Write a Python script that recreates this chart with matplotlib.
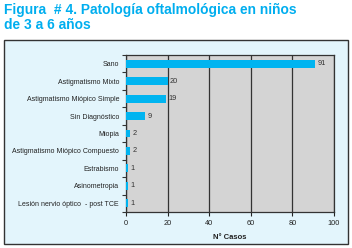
import matplotlib.pyplot as plt
from matplotlib.patches import Rectangle

categorias = ['Sano', 'Astigmatismo Mixto', 'Astigmatismo Miópico Simple',
              'Sin Diagnóstico', 'Miopia', 'Astigmatismo Miópico Compuesto',
              'Estrabismo', 'Asinometropia', 'Lesión nervio óptico  - post TCE']
casos = [91, 20, 19, 9, 2, 2, 1, 1, 1]
xticks = [0, 20, 40, 60, 80, 100]

plt.rcParams['font.family'] = ['Liberation Sans', 'DejaVu Sans']

W, H = 352, 248
fig = plt.figure(figsize=(W / 100, H / 100), dpi=100)
fig.patch.set_facecolor('white')

# marco azul claro
fig.patches.append(Rectangle((4 / W, 1 - 244 / H), 344 / W, 204 / H,
                             transform=fig.transFigure, facecolor='#E3F5FC',
                             edgecolor='#333333', linewidth=1.0, zorder=-10))

fig.text(4 / W, 1 - 3 / H, 'Figura  # 4. Patología oftalmológica en niños\nde 3 a 6 años',
         ha='left', va='top', fontsize=9.9, fontweight='bold', color='#00AEEF',
         linespacing=1.05)

ax = fig.add_axes([126 / W, 1 - 212 / H, 208 / W, 157 / H])
ax.set_facecolor('#D4D4D4')
y = list(range(len(categorias)))[::-1]
ax.barh(y, casos, height=0.45, color='#00B4F0', zorder=3)
for yi, v in zip(y, casos):
    ax.text(v + 1.2, yi, str(v), va='center', ha='left', fontsize=5.3, color='#333333')

ax.set_xlim(0, 100)
ax.set_ylim(-0.5, len(categorias) - 0.5)
ax.set_xticks(xticks)
ax.set_yticks(y)
ax.set_yticklabels(categorias)
ax.set_yticks([i - 0.5 for i in range(len(categorias) + 1)], minor=True)
ax.tick_params(axis='y', which='major', length=0, labelsize=5.0, pad=5, colors='#222222')
ax.tick_params(axis='y', which='minor', length=3, width=0.8, color='#333333')
ax.tick_params(axis='x', length=3, width=0.8, labelsize=5.3, pad=3, colors='#222222')
ax.grid(axis='x', color='#333333', linewidth=0.9, zorder=1)
for s in ax.spines.values():
    s.set_color('#333333')
    s.set_linewidth(0.9)
ax.set_xlabel('N° Casos', fontsize=5.5, fontweight='bold', labelpad=5, color='#222222')

fig.savefig('out.png', dpi=100, facecolor=fig.get_facecolor())
